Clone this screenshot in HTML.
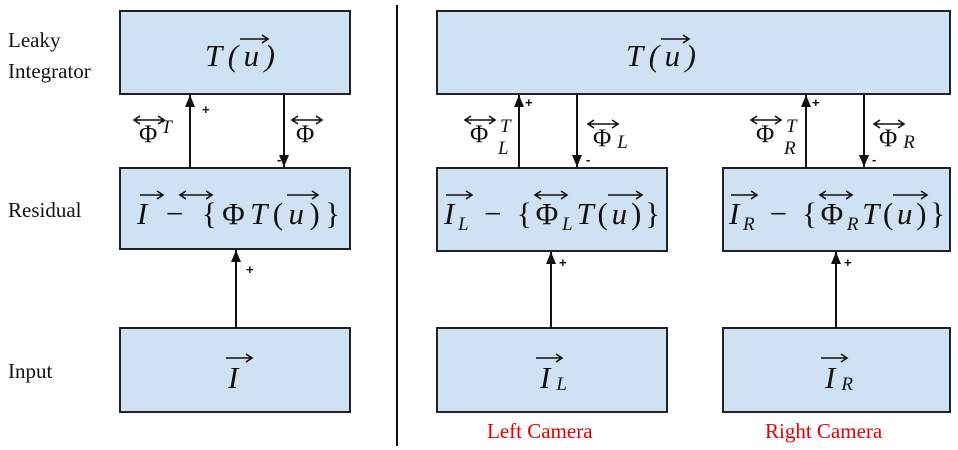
<!DOCTYPE html>
<html><head><meta charset="utf-8"><style>
html,body{margin:0;padding:0;background:#fff;}
svg{display:block;}
.box{fill:#cfe2f3;stroke:#222;stroke-width:2;}
.m{font-family:"Liberation Serif",serif;font-size:31px;fill:#111;}
.i{font-style:italic;}
.lbl{font-family:"Liberation Serif",serif;font-size:21px;fill:#111;}
.red{font-family:"Liberation Serif",serif;font-size:21px;fill:#e00000;}
.sg{font-family:"Liberation Sans",sans-serif;font-size:13px;font-weight:bold;fill:#111;}
.sm{font-family:"Liberation Serif",serif;font-size:25px;fill:#111;}
.sub{font-family:"Liberation Serif",serif;font-size:19px;font-style:italic;fill:#111;}
.oa{stroke:#111;stroke-width:1.6;fill:none;}
</style></head><body>
<svg width="958" height="450" viewBox="0 0 958 450">
<defs><marker id="ah" markerWidth="12" markerHeight="10" refX="12" refY="5" orient="auto" markerUnits="userSpaceOnUse" viewBox="0 0 12 10"><path d="M0,0 L12,5 L0,10 z" fill="#111"/></marker></defs>

<g>
<text class="lbl" x="8" y="47">Leaky</text>
<text class="lbl" x="8" y="78">Integrator</text>
<text class="lbl" x="8" y="217">Residual</text>
<text class="lbl" x="8" y="378">Input</text>
</g>

<line x1="397" y1="5" x2="397" y2="446" stroke="#111" stroke-width="2"/>

<!-- Left column -->
<rect class="box" x="120" y="11" width="230" height="83"/>
<text class="m i" x="205" y="66" textLength="70" lengthAdjust="spacing">T(u)</text>
<path class="oa" d="M240 39 H268 M262 35 L268 39 L262 43"/>

<rect class="box" x="120" y="168" width="230" height="81"/>
<text class="m" x="137" y="224" textLength="203" lengthAdjust="spacing"><tspan class="i">I</tspan> − {Φ<tspan class="i">T</tspan>(<tspan class="i">u</tspan>)}</text>
<path class="oa" d="M140 195 H163 M157 191 L163 195 L157 199"/>
<path class="oa" d="M180 195 H212 M186 191 L180 195 L186 199 M206 191 L212 195 L206 199"/>
<path class="oa" d="M287 195 H318 M312 191 L318 195 L312 199"/>

<rect class="box" x="120" y="328" width="230" height="84"/>
<text class="m i" x="228" y="388">I</text>
<path class="oa" d="M226 358 H252 M246 354 L252 358 L246 362"/>

<line x1="190" y1="168" x2="190" y2="95" stroke="#111" stroke-width="2" marker-end="url(#ah)"/>
<line x1="284" y1="94" x2="284" y2="167" stroke="#111" stroke-width="2" marker-end="url(#ah)"/>
<line x1="236" y1="328" x2="236" y2="250" stroke="#111" stroke-width="2" marker-end="url(#ah)"/>
<text class="sg" x="202" y="114">+</text>
<text class="sg" x="277" y="164">-</text>
<text class="sg" x="246" y="274">+</text>
<text class="sm" x="139" y="142">Φ<tspan class="sub" dx="4" dy="-9">T</tspan></text>
<path class="oa" d="M134 120 H164 M140 116 L134 120 L140 124 M158 116 L164 120 L158 124"/>
<text class="sm" x="296" y="142">Φ</text>
<path class="oa" d="M292 120 H322 M298 116 L292 120 L298 124 M316 116 L322 120 L316 124"/>

<!-- Right section -->
<rect class="box" x="437" y="11" width="513" height="83"/>
<text class="m i" x="626" y="66" textLength="70" lengthAdjust="spacing">T(u)</text>
<path class="oa" d="M661 39 H689 M683 35 L689 39 L683 43"/>

<rect class="box" x="437" y="168" width="230" height="83"/>
<text class="m" x="444" y="224" textLength="216" lengthAdjust="spacing"><tspan class="i">I</tspan><tspan class="sub" dy="6">L</tspan><tspan dy="-6"> − {Φ</tspan><tspan class="sub" dy="6">L</tspan><tspan class="i" dy="-6">T</tspan>(<tspan class="i">u</tspan>)}</text>
<path class="oa" d="M446 195 H472 M466 191 L472 195 L466 199"/>
<path class="oa" d="M535 195 H567 M541 191 L535 195 L541 199 M561 191 L567 195 L561 199"/>
<path class="oa" d="M608 195 H642 M636 191 L642 195 L636 199"/>

<rect class="box" x="723" y="168" width="227" height="83"/>
<text class="m" x="729" y="224" textLength="216" lengthAdjust="spacing"><tspan class="i">I</tspan><tspan class="sub" dy="6">R</tspan><tspan dy="-6"> − {Φ</tspan><tspan class="sub" dy="6">R</tspan><tspan class="i" dy="-6">T</tspan>(<tspan class="i">u</tspan>)}</text>
<path class="oa" d="M731 195 H757 M751 191 L757 195 L751 199"/>
<path class="oa" d="M820 195 H852 M826 191 L820 195 L826 199 M846 191 L852 195 L846 199"/>
<path class="oa" d="M893 195 H927 M921 191 L927 195 L921 199"/>

<rect class="box" x="437" y="328" width="230" height="84"/>
<text class="m" x="540" y="388"><tspan class="i">I</tspan><tspan class="sub" dx="6" dy="2">L</tspan></text>
<path class="oa" d="M536 358 H562 M556 354 L562 358 L556 362"/>
<rect class="box" x="723" y="328" width="227" height="84"/>
<text class="m" x="825" y="388"><tspan class="i">I</tspan><tspan class="sub" dx="6" dy="2">R</tspan></text>
<path class="oa" d="M821 358 H847 M841 354 L847 358 L841 362"/>

<line x1="519" y1="168" x2="519" y2="95" stroke="#111" stroke-width="2" marker-end="url(#ah)"/>
<line x1="577" y1="94" x2="577" y2="167" stroke="#111" stroke-width="2" marker-end="url(#ah)"/>
<line x1="806" y1="168" x2="806" y2="95" stroke="#111" stroke-width="2" marker-end="url(#ah)"/>
<line x1="864" y1="94" x2="864" y2="167" stroke="#111" stroke-width="2" marker-end="url(#ah)"/>
<line x1="551" y1="328" x2="551" y2="252" stroke="#111" stroke-width="2" marker-end="url(#ah)"/>
<line x1="836" y1="328" x2="836" y2="252" stroke="#111" stroke-width="2" marker-end="url(#ah)"/>
<text class="sg" x="525" y="107">+</text>
<text class="sg" x="586" y="164">-</text>
<text class="sg" x="812" y="107">+</text>
<text class="sg" x="872" y="164">-</text>
<text class="sg" x="559" y="267">+</text>
<text class="sg" x="844" y="267">+</text>

<text class="sm" x="470" y="142">Φ</text>
<path class="oa" d="M465 120 H495 M471 116 L465 120 L471 124 M489 116 L495 120 L489 124"/>
<text class="sub" x="500" y="132">T</text>
<text class="sub" x="498" y="154">L</text>
<text class="sm" x="593" y="146">Φ<tspan class="sub" dx="6" dy="2">L</tspan></text>
<path class="oa" d="M588 124 H618 M594 120 L588 124 L594 128 M612 120 L618 124 L612 128"/>

<text class="sm" x="756" y="142">Φ</text>
<path class="oa" d="M751 120 H781 M757 116 L751 120 L757 124 M775 116 L781 120 L775 124"/>
<text class="sub" x="786" y="132">T</text>
<text class="sub" x="784" y="154">R</text>
<text class="sm" x="879" y="146">Φ<tspan class="sub" dx="6" dy="2">R</tspan></text>
<path class="oa" d="M874 124 H904 M880 120 L874 124 L880 128 M898 120 L904 124 L898 128"/>

<text class="red" x="487" y="438">Left Camera</text>
<text class="red" x="765" y="438">Right Camera</text>
</svg>
</body></html>
